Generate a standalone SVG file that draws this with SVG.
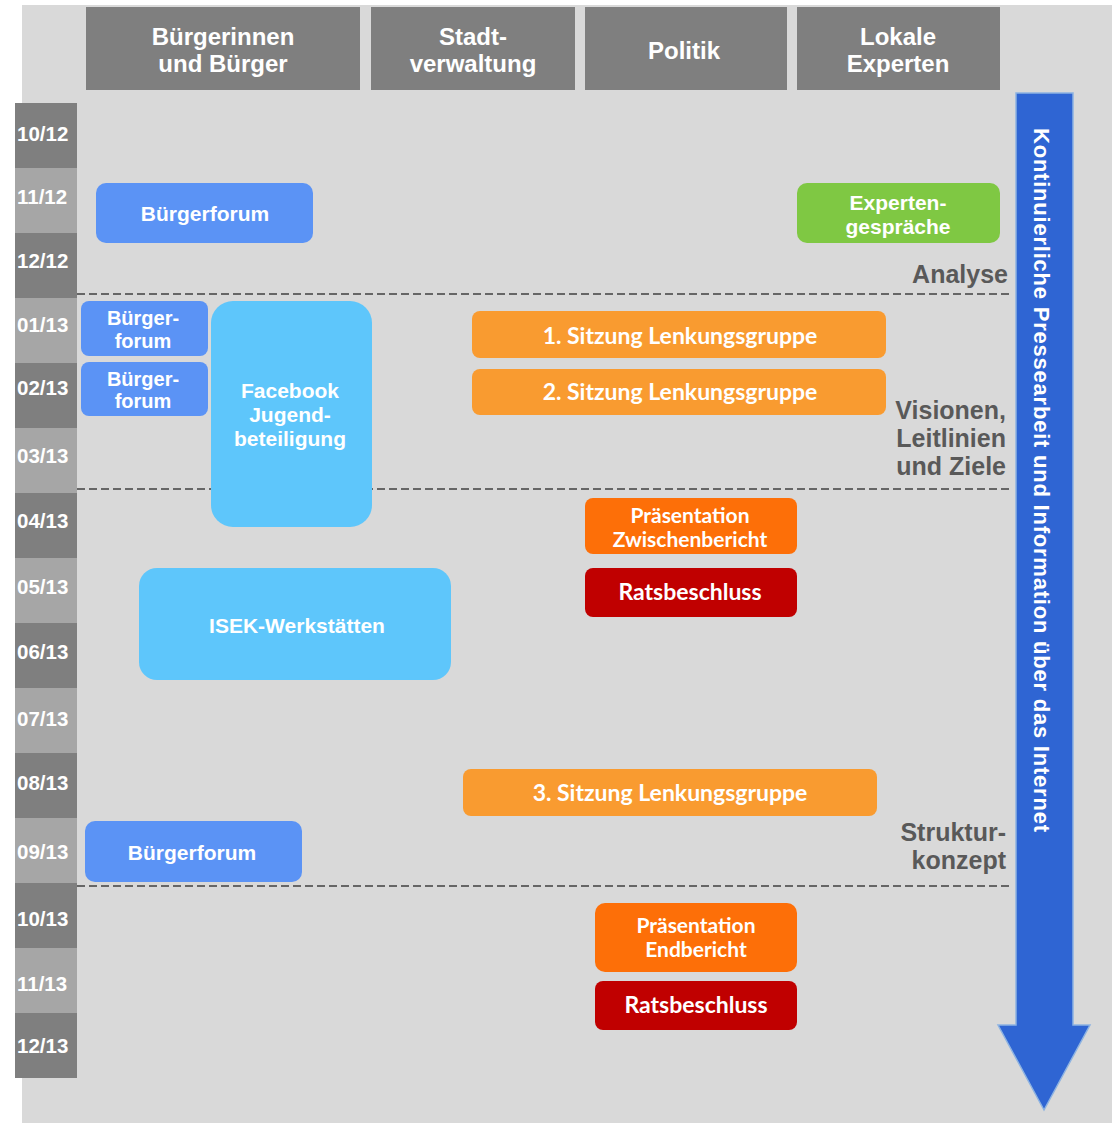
<svg xmlns="http://www.w3.org/2000/svg" width="1115" height="1126" viewBox="0 0 1115 1126">
<style>
.hdr{fill:#7f7f7f}
.hdrt{font-family:"Liberation Sans",Arial,sans-serif;font-weight:bold;font-size:24px;fill:#fff;text-anchor:middle}
.md{fill:#7f7f7f}
.ml{fill:#a6a6a6}
.mt{font-family:"Liberation Sans",Arial,sans-serif;font-weight:bold;font-size:20.5px;fill:#fff}
.bt{font-family:"Liberation Sans",Arial,sans-serif;font-weight:bold;font-size:21px;fill:#fff;text-anchor:middle}
.bs{font-family:"Liberation Sans",Arial,sans-serif;font-weight:bold;font-size:20px;fill:#fff;text-anchor:middle}
.ot{font-family:Lato,"Liberation Sans",sans-serif;font-weight:bold;font-size:23px;fill:#fff;text-anchor:middle}
.o2{font-family:Lato,"Liberation Sans",sans-serif;font-weight:bold;font-size:21px;fill:#fff;text-anchor:middle}
.ph{font-family:"Liberation Sans",Arial,sans-serif;font-weight:bold;font-size:25px;fill:#595959;text-anchor:end}
.blue{fill:#5b93f5}
.lblue{fill:#5ec6fb}
.green{fill:#7fc843}
.orange{fill:#f99b30}
.dorange{fill:#fd6f08}
.red{fill:#c00000}
.dash{stroke:#666;stroke-width:2;stroke-dasharray:8 4;fill:none}
</style>
<rect x="22" y="5" width="1090" height="1118" fill="#d9d9d9"/>
<g id="headers">
<g id="h1"><rect class="hdr" x="86" y="7" width="274" height="83"/><text class="hdrt" x="223" y="44.5">Bürgerinnen</text><text class="hdrt" x="223" y="71.5">und Bürger</text></g>
<g id="h2"><rect class="hdr" x="371" y="7" width="204" height="83"/><text class="hdrt" x="473" y="44.5">Stadt-</text><text class="hdrt" x="473" y="71.5">verwaltung</text></g>
<g id="h3"><rect class="hdr" x="585" y="7" width="202" height="83"/><text class="hdrt" x="684" y="58.5">Politik</text></g>
<g id="h4"><rect class="hdr" x="797" y="7" width="203" height="83"/><text class="hdrt" x="898" y="44.5">Lokale</text><text class="hdrt" x="898" y="71.5">Experten</text></g>
</g>
<g id="months">
<rect class="md" x="15" y="103" width="62" height="65"/>
<rect class="ml" x="15" y="168" width="62" height="65"/>
<rect class="md" x="15" y="233" width="62" height="65"/>
<rect class="ml" x="15" y="298" width="62" height="65"/>
<rect class="md" x="15" y="363" width="62" height="65"/>
<rect class="ml" x="15" y="428" width="62" height="65"/>
<rect class="md" x="15" y="493" width="62" height="65"/>
<rect class="ml" x="15" y="558" width="62" height="65"/>
<rect class="md" x="15" y="623" width="62" height="65"/>
<rect class="ml" x="15" y="688" width="62" height="65"/>
<rect class="md" x="15" y="753" width="62" height="65"/>
<rect class="ml" x="15" y="818" width="62" height="65"/>
<rect class="md" x="15" y="883" width="62" height="65"/>
<rect class="ml" x="15" y="948" width="62" height="65"/>
<rect class="md" x="15" y="1013" width="62" height="65"/>
<text class="mt" x="17" y="141">10/12</text>
<text class="mt" x="17" y="204">11/12</text>
<text class="mt" x="17" y="268">12/12</text>
<text class="mt" x="17" y="332">01/13</text>
<text class="mt" x="17" y="395">02/13</text>
<text class="mt" x="17" y="463">03/13</text>
<text class="mt" x="17" y="528">04/13</text>
<text class="mt" x="17" y="594">05/13</text>
<text class="mt" x="17" y="659">06/13</text>
<text class="mt" x="17" y="726">07/13</text>
<text class="mt" x="17" y="790">08/13</text>
<text class="mt" x="17" y="859">09/13</text>
<text class="mt" x="17" y="926">10/13</text>
<text class="mt" x="17" y="991">11/13</text>
<text class="mt" x="17" y="1053">12/13</text>
</g>
<g id="connectors">
<line class="dash" x1="77" y1="294" x2="1013" y2="294"/>
<line class="dash" x1="77" y1="489" x2="1013" y2="489"/>
<line class="dash" x1="77" y1="886" x2="1013" y2="886"/>
</g>
<g id="phases">
<text class="ph" x="1008" y="283">Analyse</text>
<text class="ph" x="1006" y="419">Visionen,</text>
<text class="ph" x="1006" y="447">Leitlinien</text>
<text class="ph" x="1006" y="475">und Ziele</text>
<text class="ph" x="1006" y="841">Struktur-</text>
<text class="ph" x="1006" y="869">konzept</text>
</g>
<g id="arrow">
<path d="M1016 93 H1073 V1025 H1090 L1044 1110 L998 1025 H1016 Z" fill="#2f65d3" stroke="#8db3e2" stroke-width="1.5"/>
<text transform="translate(1034 128) rotate(90)" font-family="'Liberation Sans',Arial,sans-serif" font-weight="bold" font-size="22" fill="#fff" textLength="704" lengthAdjust="spacing">Kontinuierliche Pressearbeit und Information über das Internet</text>
</g>
<g id="n-buergerforum1"><rect class="blue" x="96" y="183" width="217" height="60" rx="10"/><text class="bt" x="205" y="220.5">Bürgerforum</text></g>
<g id="n-experten"><rect class="green" x="797" y="183" width="203" height="60" rx="10"/><text class="bt" x="898" y="209.5">Experten-</text><text class="bt" x="898" y="233.5">gespräche</text></g>
<g id="n-buergerforum2"><rect class="blue" x="81" y="301" width="127" height="55" rx="8"/><text class="bs" x="143" y="325">Bürger-</text><text class="bs" x="143" y="348">forum</text></g>
<g id="n-buergerforum3"><rect class="blue" x="81" y="362" width="127" height="54" rx="8"/><text class="bs" x="143" y="386">Bürger-</text><text class="bs" x="143" y="408">forum</text></g>
<g id="n-facebook"><rect class="lblue" x="211" y="301" width="161" height="226" rx="22"/><text class="bt" x="290" y="397.5">Facebook</text><text class="bt" x="290" y="421.5">Jugend-</text><text class="bt" x="290" y="445.5">beteiligung</text></g>
<g id="n-sitzung1"><rect class="orange" x="472" y="311" width="414" height="47" rx="8"/><text class="ot" x="680" y="344">1. Sitzung Lenkungsgruppe</text></g>
<g id="n-sitzung2"><rect class="orange" x="472" y="369" width="414" height="46" rx="8"/><text class="ot" x="680" y="400">2. Sitzung Lenkungsgruppe</text></g>
<g id="n-zwischen"><rect class="dorange" x="585" y="498" width="212" height="56" rx="8"/><text class="o2" x="690" y="523">Präsentation</text><text class="o2" x="690" y="547">Zwischenbericht</text></g>
<g id="n-rat1"><rect class="red" x="585" y="568" width="212" height="49" rx="8"/><text class="ot" x="690" y="600">Ratsbeschluss</text></g>
<g id="n-isek"><rect class="lblue" x="139" y="568" width="312" height="112" rx="18"/><text class="bt" x="297" y="632.5">ISEK-Werkstätten</text></g>
<g id="n-sitzung3"><rect class="orange" x="463" y="769" width="414" height="47" rx="8"/><text class="ot" x="670" y="801">3. Sitzung Lenkungsgruppe</text></g>
<g id="n-buergerforum4"><rect class="blue" x="85" y="821" width="217" height="61" rx="10"/><text class="bt" x="192" y="859.5">Bürgerforum</text></g>
<g id="n-endbericht"><rect class="dorange" x="595" y="903" width="202" height="69" rx="10"/><text class="o2" x="696" y="933">Präsentation</text><text class="o2" x="696" y="957">Endbericht</text></g>
<g id="n-rat2"><rect class="red" x="595" y="981" width="202" height="49" rx="8"/><text class="ot" x="696" y="1013">Ratsbeschluss</text></g>
</svg>
